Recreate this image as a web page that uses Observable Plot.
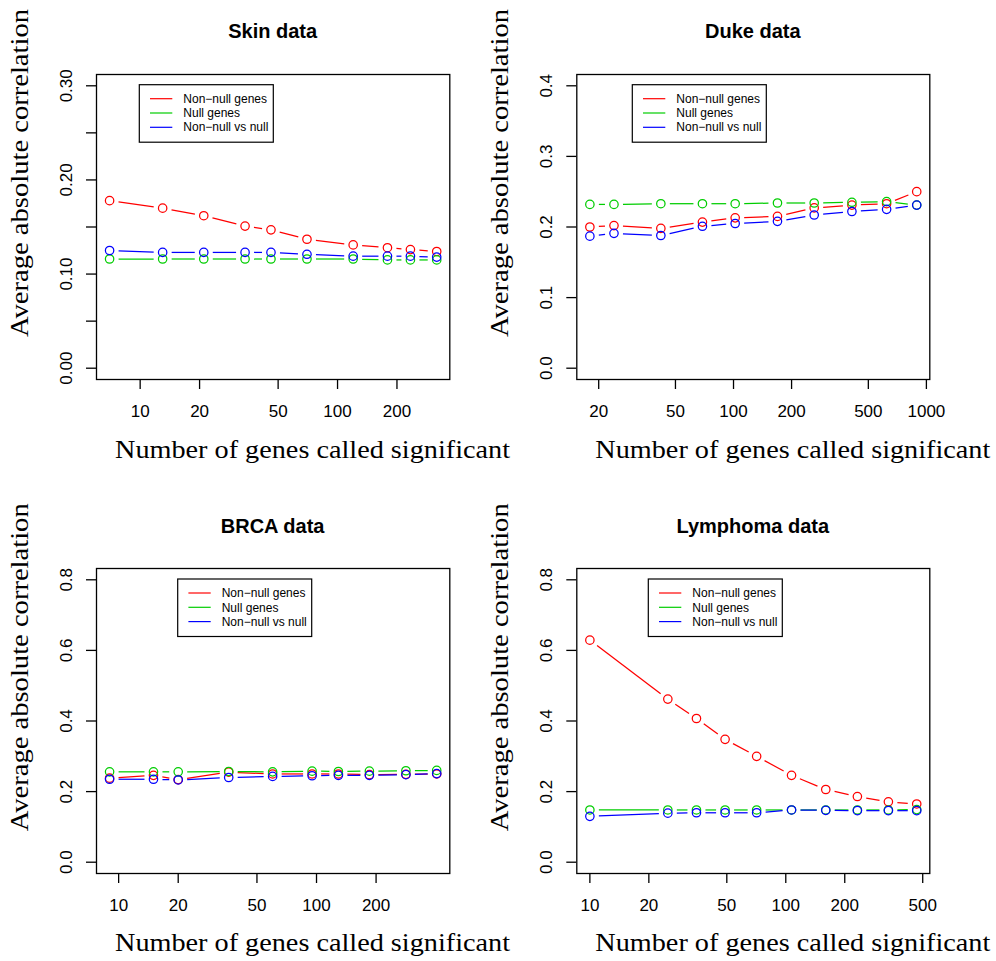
<!DOCTYPE html>
<html><head><meta charset="utf-8">
<script src="https://cdn.jsdelivr.net/npm/d3@7"></script>
<script src="https://cdn.jsdelivr.net/npm/@observablehq/plot@0.6"></script>
<style>
html,body{margin:0;padding:0;background:#fff;overflow:hidden}
#root{position:relative;width:996px;height:961px;background:#fff}
.panel{position:absolute}
#overlay{position:absolute;left:0;top:0;pointer-events:none}
</style></head><body><div id="root"></div>
<script>
// ---------- data ----------
const seriesNames = ["Non\u2212null genes", "Null genes", "Non\u2212null vs null"];
const seriesColors = ["#FF0000", "#00CD00", "#0000FF"];
const xAxisTitle = "Number of genes called significant";
const yAxisTitle = "Average absolute correlation";

const skinN        = [7, 13, 21, 34, 46, 70, 120, 179, 234, 318];
const skinNonNull  = [0.178, 0.170, 0.162, 0.151, 0.147, 0.137, 0.131, 0.128, 0.126, 0.124];
const skinNull     = [0.116, 0.116, 0.116, 0.116, 0.116, 0.116, 0.116, 0.115, 0.115, 0.115];
const skinVs       = [0.125, 0.123, 0.123, 0.123, 0.123, 0.121, 0.119, 0.119, 0.119, 0.118];
const skinXTicks   = [10, 20, 50, 100, 200];
const skinYTicks   = [0, 0.05, 0.10, 0.15, 0.20, 0.25, 0.30];
const skinYLabelAt = [0, 0.10, 0.20, 0.30];
const skinYLabels  = ["0.00", "0.10", "0.20", "0.30"];

const dukeN        = [18, 24, 42, 69, 102, 169, 262, 411, 622, 891];
const dukeNonNull  = [0.200, 0.202, 0.198, 0.207, 0.213, 0.215, 0.227, 0.231, 0.233, 0.250];
const dukeNull     = [0.232, 0.232, 0.233, 0.233, 0.233, 0.234, 0.234, 0.235, 0.236, 0.231];
const dukeVs       = [0.187, 0.191, 0.188, 0.201, 0.205, 0.208, 0.217, 0.222, 0.225, 0.231];
const dukeXTicks   = [20, 50, 100, 200, 500, 1000];
const dukeYTicks   = [0, 0.1, 0.2, 0.3, 0.4];
const dukeYLabelAt = [0, 0.1, 0.2, 0.3, 0.4];
const dukeYLabels  = ["0.0", "0.1", "0.2", "0.3", "0.4"];

const brcaN        = [9, 15, 20, 36, 60, 95, 129, 185, 283, 405];
const brcaNonNull  = [0.238, 0.246, 0.234, 0.255, 0.250, 0.250, 0.250, 0.248, 0.249, 0.250];
const brcaNull     = [0.256, 0.256, 0.256, 0.257, 0.256, 0.258, 0.257, 0.258, 0.259, 0.260];
const brcaVs       = [0.235, 0.235, 0.233, 0.240, 0.243, 0.245, 0.246, 0.246, 0.248, 0.251];
const brcaXTicks   = [10, 20, 50, 100, 200];
const brcaYTicks   = [0, 0.2, 0.4, 0.6, 0.8];
const brcaYLabelAt = [0, 0.2, 0.4, 0.6, 0.8];
const brcaYLabels  = ["0.0", "0.2", "0.4", "0.6", "0.8"];

const lymphN       = [10, 25, 35, 49, 71, 107, 160, 232, 334, 466];
const lymphNonNull = [0.629, 0.462, 0.407, 0.348, 0.300, 0.246, 0.206, 0.186, 0.171, 0.165];
const lymphNull    = [0.148, 0.148, 0.148, 0.148, 0.148, 0.148, 0.148, 0.148, 0.148, 0.149];
const lymphVs      = [0.130, 0.139, 0.140, 0.140, 0.140, 0.148, 0.147, 0.146, 0.146, 0.146];
const lymphXTicks  = [10, 20, 50, 100, 200, 500];
const lymphYTicks  = [0, 0.2, 0.4, 0.6, 0.8];
const lymphYLabelAt= [0, 0.2, 0.4, 0.6, 0.8];
const lymphYLabels = ["0.0", "0.2", "0.4", "0.6", "0.8"];

// ---------- layout ----------
const PW = 498, PH = 467, MT = 74, MB = 88;
const panels = [
  {title: "Skin data", n: skinN, series: [skinNonNull, skinNull, skinVs], ymax: 0.3,
   xTicks: skinXTicks, yTicks: skinYTicks, yLabelAt: skinYLabelAt, yLabels: skinYLabels,
   left: 0, top: 0, mL: 96, mR: 48.7, legendDx: 43.3},
  {title: "Duke data", n: dukeN, series: [dukeNonNull, dukeNull, dukeVs], ymax: 0.4,
   xTicks: dukeXTicks, yTicks: dukeYTicks, yLabelAt: dukeYLabelAt, yLabels: dukeYLabels,
   left: 498, top: 0, mL: 78.3, mR: 66.7, legendDx: 56},
  {title: "BRCA data", n: brcaN, series: [brcaNonNull, brcaNull, brcaVs], ymax: 0.8,
   xTicks: brcaXTicks, yTicks: brcaYTicks, yLabelAt: brcaYLabelAt, yLabels: brcaYLabels,
   left: 0, top: 494.3, mL: 96, mR: 48.7, legendDx: 81.7},
  {title: "Lymphoma data", n: lymphN, series: [lymphNonNull, lymphNull, lymphVs], ymax: 0.8,
   xTicks: lymphXTicks, yTicks: lymphYTicks, yLabelAt: lymphYLabelAt, yLabels: lymphYLabels,
   left: 498, top: 494.3, mL: 78.3, mR: 66.7, legendDx: 72}
];

const root = document.getElementById("root");
const SANS = '"Liberation Sans", Arial, Helvetica, sans-serif';
const SERIF = '"Liberation Serif", "Times New Roman", serif';

panels.forEach(p => {
  const logs = p.n.map(Math.log10);
  const lo = d3.min(logs), hi = d3.max(logs), ext = (hi - lo) * 0.04;
  const marks = [];
  p.series.forEach((vals, i) => {
    const pts = p.n.map((n, j) => ({x: n, y: vals[j]}));
    const segs = d3.pairs(pts).map(([a, b]) => ({x1: a.x, y1: a.y, x2: b.x, y2: b.y}));
    marks.push(Plot.arrow(segs, {x1: "x1", y1: "y1", x2: "x2", y2: "y2", stroke: seriesColors[i],
      strokeWidth: 1.25, headLength: 0, insetStart: 9, insetEnd: 9, strokeLinecap: "butt", bend: 0}));
    marks.push(Plot.dot(pts, {x: "x", y: "y", r: 4.2, stroke: seriesColors[i], strokeWidth: 1.25, fill: "none"}));
  });
  marks.push(Plot.frame({stroke: "#000", strokeWidth: 1.3}));
  marks.push(Plot.axisX({ticks: p.xTicks, tickSize: 10, tickPadding: 15, fontSize: 17,
    tickFormat: d => String(d), label: null, stroke: "#000", strokeWidth: 1.3}));
  marks.push(Plot.axisY({ticks: p.yTicks, tickSize: 10, tickFormat: () => "", label: null,
    stroke: "#000", strokeWidth: 1.3}));
  marks.push(Plot.text(p.yLabelAt, {y: d => d, text: (d, i) => p.yLabels[i], frameAnchor: "left",
    dx: -30, rotate: -90, fontSize: 17, textAnchor: "middle", lineAnchor: "middle", fill: "#000"}));
  const chart = Plot.plot({
    width: PW, height: PH,
    marginLeft: p.mL, marginRight: p.mR, marginTop: MT, marginBottom: MB,
    x: {type: "log", domain: [10 ** (lo - ext), 10 ** (hi + ext)]},
    y: {domain: [-0.04 * p.ymax, 1.04 * p.ymax]},
    style: {fontFamily: SANS, fontSize: "17px", color: "#000", background: "white", overflow: "visible"},
    marks
  });
  chart.classList.add("panel");
  chart.style.left = p.left + "px";
  chart.style.top = p.top + "px";
  root.appendChild(chart);
});

// overlay for titles, axis titles, legends
const svg = d3.select(root).append("svg").attr("id", "overlay")
  .attr("width", 996).attr("height", 961);
panels.forEach((p, k) => {
  const fl = p.left + p.mL, fr = p.left + PW - p.mR, ft = p.top + MT;
  const bottomRow = p.top > 0;
  svg.append("text").attr("x", (fl + fr) / 2).attr("y", p.top + 38.3)
    .attr("text-anchor", "middle").attr("font-family", SANS).attr("font-weight", "bold")
    .attr("font-size", 20).text(p.title);
  svg.append("text").attr("x", fl + 19).attr("y", bottomRow ? p.top + 457 : 458)
    .attr("font-family", SERIF).attr("font-size", 25)
    .attr("textLength", 395).attr("lengthAdjust", "spacingAndGlyphs").text(xAxisTitle);
  const yx = fl - 68, yy = p.top + 337;
  svg.append("text").attr("transform", `translate(${yx},${yy}) rotate(-90)`)
    .attr("font-family", SERIF).attr("font-size", 25)
    .attr("textLength", 328).attr("lengthAdjust", "spacingAndGlyphs").text(yAxisTitle);
  // legend
  const lx = fl + p.legendDx, ly = ft + 10.7;
  const g = svg.append("g").attr("transform", `translate(${lx},${ly})`);
  g.append("rect").attr("width", 134).attr("height", 57.5).attr("fill", "#fff")
    .attr("stroke", "#000").attr("stroke-width", 1.2);
  seriesNames.forEach((name, i) => {
    const yy2 = 14 + i * 14.3;
    g.append("line").attr("x1", 10.7).attr("x2", 33).attr("y1", yy2).attr("y2", yy2)
      .attr("stroke", seriesColors[i]).attr("stroke-width", 1.2);
    g.append("text").attr("x", 44).attr("y", yy2).attr("dy", "0.35em")
      .attr("font-family", SANS).attr("font-size", 12).text(name);
  });
});
</script></body></html>
